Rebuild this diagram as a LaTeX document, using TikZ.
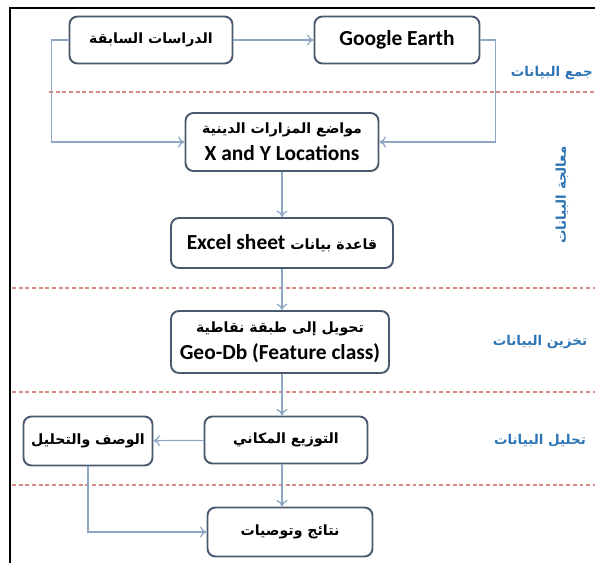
\documentclass[tikz,border=0pt]{standalone}
\usepackage{fontspec}
\setmainfont{Carlito}
\newfontfamily\arabicfont[Script=Arabic,Scale=0.66]{DejaVu Sans}
\TeXXeTstate=1
\usetikzlibrary{arrows.meta}
\definecolor{boxline}{HTML}{4A5A6E}
\definecolor{link}{HTML}{8CA6C4}
\definecolor{sepred}{HTML}{D98A84}
\definecolor{tagblue}{HTML}{2E75B6}
\newcommand{\ar}[1]{{\arabicfont\bfseries\beginR #1\endR}}
\newcommand{\lat}[1]{\beginL{\normalfont\bfseries #1}\endL}
\tikzset{
  box/.style ={draw=boxline, line width=1.1pt, rounded corners=4.5pt, fill=white, align=center, inner sep=2pt, font=\bfseries\fontsize{12.2}{15.5}\selectfont},
  ln/.style  ={draw=link, line width=.7pt, -{To[length=1.3mm,width=2.2mm]}},
  sep/.style ={draw=sepred, line width=.7pt, dash pattern=on 2.2pt off 1.6pt},
  tag/.style ={font=\fontsize{11.6}{13}\selectfont, color=tagblue},
}
\begin{document}
\begin{tikzpicture}[x=0.02cm,y=-0.02cm]
    \useasboundingbox (0,0) rectangle (595,563);
    % frame and phase rules
    \draw[line width=1.2pt] (10,563) -- (10,8) -- (595,8);
    \foreach \y/\x in {92/49,288/12,392/12,485/12}
      \draw[sep] (\x,\y) -- (595,\y);
    % boxes
    \node[box,minimum width=3.26cm,minimum height=0.94cm] (prev) at (151,40) {\ar{الدراسات السابقة}};
    \node[box,minimum width=3.3cm,minimum height=0.94cm] (ge) at (397,40) {Google Earth};
    \node[box,minimum width=3.86cm,minimum height=1.16cm] (loc) at (282,142)
      {\ar{مواضع المزارات الدينية}\\ X and Y Locations};
    \node[box,minimum width=4.44cm,minimum height=1.0cm] (xls) at (282,243)
      {\ar{قاعدة بيانات \lat{Excel sheet}}};
    \node[box,minimum width=4.36cm,minimum height=1.24cm] (gdb) at (280,342)
      {\ar{تحويل إلى طبقة نقاطية}\\ Geo-Db (Feature class)};
    \node[box,minimum width=3.26cm,minimum height=0.94cm] (dist) at (286,440) {\ar{التوزيع المكاني}};
    \node[box,minimum width=2.58cm,minimum height=0.98cm] (desc) at (88,441) {\ar{الوصف والتحليل}};
    \node[box,minimum width=3.3cm,minimum height=0.98cm] (res) at (290,532) {\ar{نتائج وتوصيات}};
    % phase labels
    \node[tag,anchor=east] (lcol) at (599,73) {\ar{جمع البيانات}};
    \node[tag,rotate=90] (lproc) at (562,195) {\ar{معالجة البيانات}};
    \node[tag] (lsto) at (540,342) {\ar{تخزين البيانات}};
    \node[tag] (lana) at (540,441) {\ar{تحليل البيانات}};
    % links
    \draw[ln] (prev) -- (ge);
    \draw[ln] (prev.west) -- ++(-17,0) |- (loc.west);
    \draw[ln] (ge.east) -- ++(15,0) |- (loc.east);
    \draw[ln] (loc) -- (xls);
    \draw[ln] (xls.south) -- (xls.south |- gdb.north);
    \draw[ln] (xls.south |- gdb.south) -- (xls.south |- dist.north);
    \draw[ln] (xls.south |- dist.south) -- (xls.south |- res.north);
    \draw[ln] (dist) -- (desc);
    \draw[ln] (desc.south) |- (res.west);
\end{tikzpicture}
\end{document}
